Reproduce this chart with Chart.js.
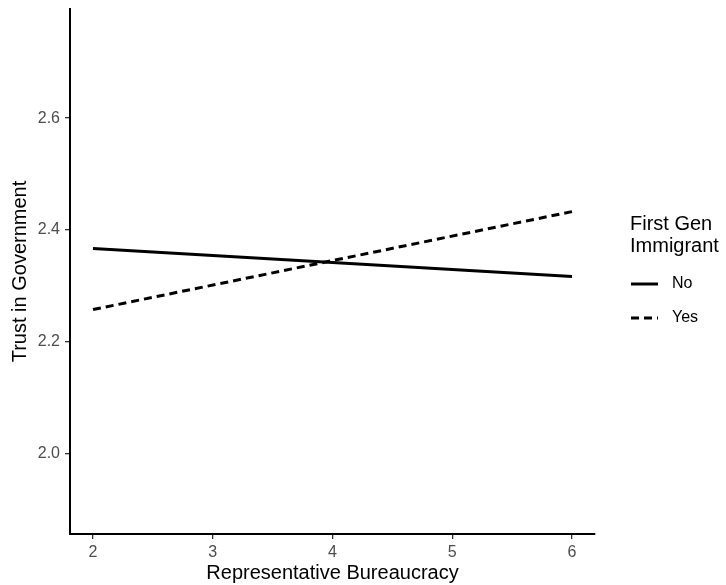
<!DOCTYPE html>
<html>
<head>
<meta charset="utf-8">
<script src="https://cdn.jsdelivr.net/npm/chart.js@4/dist/chart.umd.min.js"></script>
<style>
  html, body { margin: 0; padding: 0; background: #fff; }
  #myChart { display: block; }
</style>
</head>
<body>
<canvas id="myChart" width="726" height="585"></canvas>
<script>
// dane
const bureaucracy = [2, 6];
const trust_no = [2.367, 2.317];
const trust_yes = [2.258, 2.433];
const x_ticks = [2, 3, 4, 5, 6];
const y_ticks = [2.0, 2.2, 2.4, 2.6];
const legend_title = ['First Gen', 'Immigrant'];
const group_labels = ['No', 'Yes'];

const FONT = "'Liberation Sans', Arial, sans-serif";

function points(ys) {
    return bureaucracy.map((x, i) => ({ x: x, y: ys[i] }));
}

// legenda po prawej, rysowana recznie (tytul w dwoch liniach)
const sideLegend = {
    id: 'sideLegend',
    afterDraw(chart) {
        const ctx = chart.ctx;
        const left = chart.chartArea.right + 35;
        ctx.save();
        ctx.fillStyle = '#000';
        ctx.font = '20px ' + FONT;
        ctx.textBaseline = 'middle';
        ctx.textAlign = 'left';
        ctx.fillText(legend_title[0], left, 224);
        ctx.fillText(legend_title[1], left, 246);
        chart.data.datasets.forEach((ds, i) => {
            const y = 284 + i * 34;
            ctx.strokeStyle = ds.borderColor;
            ctx.lineWidth = ds.borderWidth;
            ctx.setLineDash(ds.borderDash || []);
            ctx.beginPath();
            ctx.moveTo(left + 1, y);
            ctx.lineTo(left + 28, y);
            ctx.stroke();
            ctx.setLineDash([]);
            ctx.font = '16px ' + FONT;
            ctx.fillText(ds.label, left + 42, y);
        });
        ctx.restore();
    }
};

const data = {
    datasets: [{
        label: group_labels[0],
        data: points(trust_no),
        borderColor: '#000',
        borderWidth: 3,
        pointRadius: 0,
        fill: false
    }, {
        label: group_labels[1],
        data: points(trust_yes),
        borderColor: '#000',
        borderWidth: 3,
        borderDash: [8, 5],
        pointRadius: 0,
        fill: false
    }]
};

const tickFont = { family: FONT, size: 16 };
const titleFont = { family: FONT, size: 20 };

const config = {
    type: 'line',
    data: data,
    plugins: [sideLegend],
    options: {
        responsive: false,
        animation: false,
        layout: { padding: { top: 9, right: 131, left: 0, bottom: 0 } },
        plugins: {
            legend: { display: false },
            tooltip: { enabled: false }
        },
        scales: {
            x: {
                type: 'linear',
                min: 1.808,
                max: 6.192,
                afterBuildTicks(scale) { scale.ticks = x_ticks.map(v => ({ value: v })); },
                afterFit(scale) { scale.height = 51; scale.paddingLeft = 0; scale.paddingRight = 0; },
                grid: { drawOnChartArea: false, drawTicks: true, tickLength: 5, color: '#333', lineWidth: 1.3 },
                border: { display: true, color: '#000', width: 2 },
                ticks: { color: '#4d4d4d', font: tickFont, padding: 4, maxRotation: 0 },
                title: { display: true, text: 'Representative Bureaucracy', color: '#000', font: titleFont, padding: { top: 0, bottom: 0 } }
            },
            y: {
                min: 1.857,
                max: 2.795,
                afterBuildTicks(scale) { scale.ticks = y_ticks.map(v => ({ value: v })); },
                afterFit(scale) { scale.width = 70; scale.paddingTop = 0; scale.paddingBottom = 0; },
                grid: { drawOnChartArea: false, drawTicks: true, tickLength: 5, color: '#333', lineWidth: 1.3 },
                border: { display: true, color: '#000', width: 2 },
                ticks: { color: '#4d4d4d', font: tickFont, padding: 5, callback: v => v.toFixed(1) },
                title: { display: true, text: 'Trust in Government', color: '#000', font: titleFont, padding: { top: 8, bottom: 0 } }
            }
        }
    }
};

const myChart = new Chart(document.getElementById('myChart'), config);
</script>
</body>
</html>
